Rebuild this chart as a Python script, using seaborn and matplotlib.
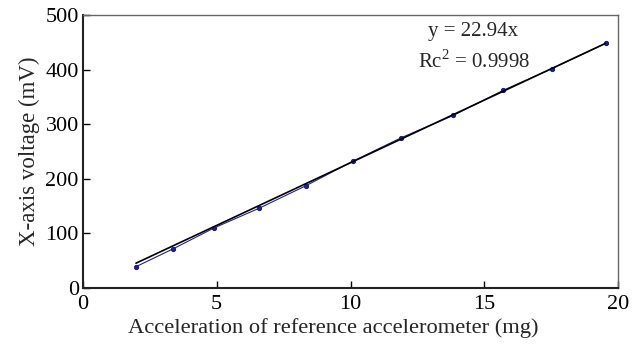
import matplotlib
matplotlib.use("Agg")
import matplotlib.pyplot as plt
import seaborn as sns
import numpy as np
import pandas as pd

x_vals = [1.98, 3.38, 4.9, 6.58, 8.32, 10.08, 11.89, 13.84, 15.71, 17.54, 19.54]
y_vals = [39, 72, 110, 146, 187, 232, 275, 316, 362, 402, 448]
slope = 22.94
eq_text = "y = 22.94x"
r2_text = "Rc$^2$ = 0.9998"

sns.set_theme(style="white")
plt.rcParams['font.family'] = ['Liberation Serif', 'DejaVu Serif']
plt.rcParams['mathtext.fontset'] = 'custom'
plt.rcParams['mathtext.rm'] = 'Liberation Serif'

df = pd.DataFrame({"x": x_vals, "y": y_vals})
fit = pd.DataFrame({"x": [x_vals[0], x_vals[-1]], "y": [slope * x_vals[0], slope * x_vals[-1]]})

fig = plt.figure(figsize=(6.38, 3.45), dpi=100)
ax = fig.add_axes([83/638, 1 - 288/345, (618-83)/638, (288-15)/345])

sns.lineplot(data=df, x="x", y="y", ax=ax, color="#20209a", lw=0.8, marker="o", ms=3, mec="#1a1a8c")
sns.lineplot(data=fit, x="x", y="y", ax=ax, color="black", lw=1.2)

ax.set_xlim(0, 20)
ax.set_ylim(0, 500)
ax.set_xticks([0, 5, 10, 15, 20])
ax.set_yticks([0, 100, 200, 300, 400, 500])
ax.tick_params(direction="in", length=5, width=1, labelsize=16, colors="black", pad=3,
               left=True, bottom=True, top=False, right=False)
ax.tick_params(axis="x", pad=5)
for s in ["left", "bottom"]:
    ax.spines[s].set_color("#222222")
    ax.spines[s].set_linewidth(1.5)
for s in ["top", "right"]:
    ax.spines[s].set_color("#666666")
    ax.spines[s].set_linewidth(1.0)

ax.set_xlabel("Acceleration of reference accelerometer (mg)", fontsize=16.2, labelpad=3)
ax.xaxis.label.set_x(0.467)
ax.set_ylabel("X-axis voltage (mV)", fontsize=16.5, labelpad=4)

ax.text(14.6, 470, eq_text, fontsize=15, ha="center", va="center")
ax.text(14.6, 415, r2_text, fontsize=15, ha="center", va="center")

fig.savefig("out.png", dpi=100)
